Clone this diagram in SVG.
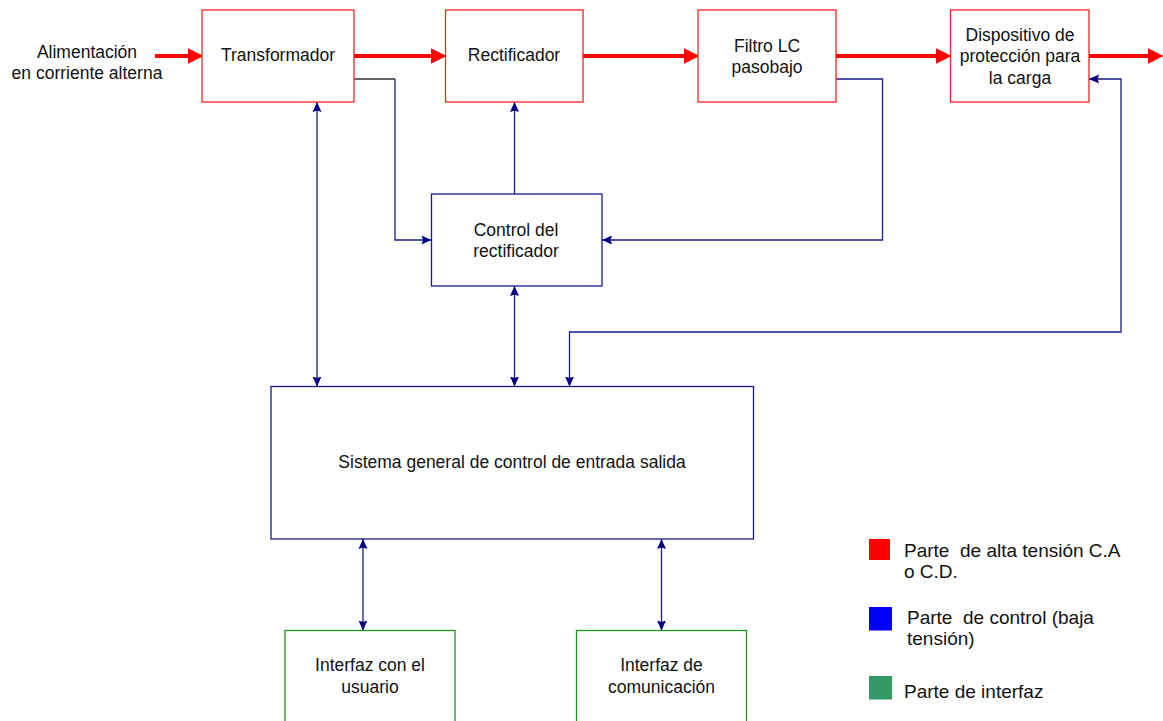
<svg xmlns="http://www.w3.org/2000/svg" width="1163" height="721" viewBox="0 0 1163 721">
  <defs>
    <marker id="arrowRed" markerUnits="userSpaceOnUse" markerWidth="16" markerHeight="16" viewBox="0 0 14 14" refX="2" refY="7" orient="auto">
      <path d="M0,0 L14,7 L0,14 Z" fill="#ff0000"/>
    </marker>
    <marker id="arrowBlue" markerUnits="userSpaceOnUse" markerWidth="10" markerHeight="10" viewBox="0 0 10 10" refX="10" refY="5" orient="auto-start-reverse">
      <path d="M0,0.5 L10,5 L0,9.5 L1.5,5 Z" fill="#000080"/>
    </marker>
  </defs>
  <style>
    text { font-family: "Liberation Sans", Arial, sans-serif; font-size: 17.5px; fill: #111; text-anchor: middle; }
    .legend { font-size: 19px; text-anchor: start; white-space: pre; }
    .power { fill: #fff; stroke: #ff2020; stroke-width: 1.3; }
    .ctrl { fill: #fff; stroke: #1a1a8c; stroke-width: 1.3; }
    .iface { fill: #fff; stroke: #1a991a; stroke-width: 1.3; }
    .hv { fill: none; stroke: #ff0000; stroke-width: 4; marker-end: url(#arrowRed); }
    .sig { fill: none; stroke: #1a1a8c; stroke-width: 1.3; }
    .one { marker-end: url(#arrowBlue); }
    .two { marker-start: url(#arrowBlue); marker-end: url(#arrowBlue); }
  </style>
  <rect width="1163" height="721" fill="#fff"/>

  <!-- power chain and signal connectors -->
  <g id="connectors">
    <path class="hv" d="M155,56 H190"/>
    <path class="hv" d="M354,56 H433"/>
    <path class="hv" d="M583,56 H686"/>
    <path class="hv" d="M836,56 H938"/>
    <path class="hv" d="M1089,56 H1150"/>

    <path d="M354,79 H395" fill="none" stroke="#333" stroke-width="1.3"/>
    <path class="sig one" d="M395,79 V240 H431.5"/>
    <path class="sig one" d="M514.5,194 V102"/>
    <path class="sig two" d="M317,102 V386.5"/>
    <path class="sig two" d="M514.5,286 V386.5"/>
    <path class="sig one" d="M836,79 H882.5 V240 H602"/>
    <path class="sig two" d="M1089,79 H1121 V332 H569.5 V386.5"/>
    <path class="sig two" d="M363,539 V630.5"/>
    <path class="sig two" d="M661.5,539 V630.5"/>
  </g>

  <g id="input-label">
    <text x="87" y="57.7">Alimentación</text>
    <text x="87" y="79.3">en corriente alterna</text>
  </g>

  <g id="transformador">
    <rect class="power" x="202" y="10" width="152" height="92"/>
    <text x="278" y="61">Transformador</text>
  </g>
  <g id="rectificador">
    <rect class="power" x="445.5" y="10" width="137.5" height="92"/>
    <text x="514" y="61">Rectificador</text>
  </g>
  <g id="filtro">
    <rect class="power" x="698" y="10" width="138" height="92"/>
    <text x="767" y="51.5">Filtro LC</text>
    <text x="767" y="73">pasobajo</text>
  </g>
  <g id="dispositivo">
    <rect class="power" x="950.5" y="10" width="138.5" height="92"/>
    <text x="1020" y="40.5">Dispositivo de</text>
    <text x="1020" y="62">protección para</text>
    <text x="1020" y="83.5">la carga</text>
  </g>

  <g id="control-rectificador">
    <rect class="ctrl" x="431.5" y="194" width="170.5" height="92"/>
    <text x="516" y="236">Control del</text>
    <text x="516" y="256.5">rectificador</text>
  </g>

  <g id="sistema-general">
    <rect class="ctrl" x="271" y="386.5" width="482.5" height="152.5"/>
    <text x="512" y="467.7">Sistema general de control de entrada salida</text>
  </g>

  <g id="interfaz-usuario">
    <rect class="iface" x="285" y="630.5" width="170" height="110"/>
    <text x="370" y="671">Interfaz con el</text>
    <text x="370" y="692.7">usuario</text>
  </g>
  <g id="interfaz-comunicacion">
    <rect class="iface" x="576.5" y="630.5" width="170" height="110"/>
    <text x="661.5" y="671">Interfaz de</text>
    <text x="661.5" y="692.7">comunicación</text>
  </g>

  <g id="legend">
    <rect x="869" y="539" width="21" height="21" fill="#ff0000"/>
    <text class="legend" x="904" y="556.5">Parte  de alta tensión C.A</text>
    <text class="legend" x="904" y="578">o C.D.</text>
    <rect x="869" y="607" width="23" height="23.5" fill="#0000ff"/>
    <text class="legend" x="907" y="623.5">Parte  de control (baja</text>
    <text class="legend" x="907" y="644.5">tensión)</text>
    <rect x="869" y="676" width="23" height="23.5" fill="#339966"/>
    <text class="legend" x="904" y="697.5">Parte de interfaz</text>
  </g>
</svg>
